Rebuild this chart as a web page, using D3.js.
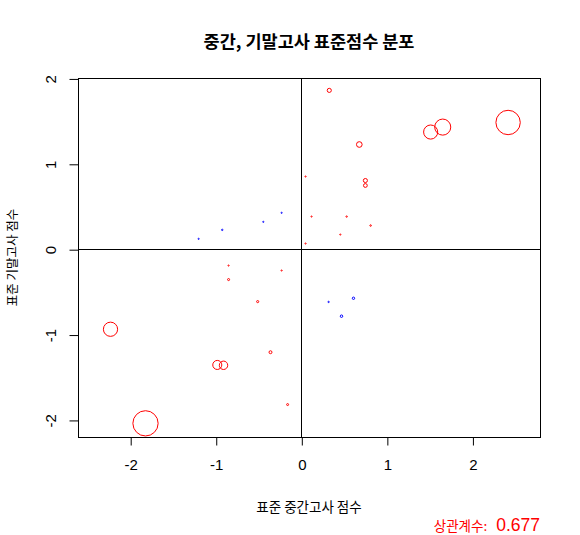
<!DOCTYPE html>
<html>
<head>
<meta charset="utf-8">
<script src="https://cdn.jsdelivr.net/npm/d3@7"></script>
<style>
  body { margin: 0; background: #fff; }
  svg { display: block; }
</style>
</head>
<body>
<svg id="chart" width="580" height="535"></svg>
<script>
// Standardized midterm (x) and final (y) scores
const midZ = [0.327, 1.512, 1.653, 2.417, 0.678, 0.05, 0.749, 0.749, 0.12, 0.53,
              0.81, 0.456, 0.05, -1.2, -0.924, -0.444, -0.23, -0.85, -0.23, -0.85,
              -0.51, -0.36, -2.23, -0.982, -0.909, -0.16, -1.821, 0.319, 0.61, 0.47];
const finalZ = [1.86, 1.372, 1.43, 1.484, 1.226, 0.851, 0.804, 0.746, 0.382, 0.382,
                0.277, 0.171, 0.066, 0.121, 0.226, 0.32, 0.426, -0.192, -0.25, -0.356,
                -0.614, -1.207, -0.938, -1.356, -1.36, -1.82, -2.04, -0.618, -0.575, -0.785];
const xTicks = [-2, -1, 0, 1, 2];
const yTicks = [-2, -1, 0, 1, 2];
const titleText = "중간, 기말고사 표준점수 분포";
const xLabel = "표준 중간고사 점수";
const yLabel = "표준 기말고사 점수";
const corrLabel = "상관계수:";
const corrValue = "0.677";

const svg = d3.select("#chart");
const L = 78, R = 540, T = 78, B = 437;
const x = d3.scaleLinear().domain([-2.61, 2.79]).range([L, R]);
const y = d3.scaleLinear().domain([-2.20, 2.005]).range([B, T]);

const pts = midZ.map((v, i) => ({ x: v, y: finalZ[i] }));
const fmt = d => String(d);

// zero lines
svg.append("line").attr("x1", L).attr("x2", R)
  .attr("y1", Math.round(y(0)) + 0.5).attr("y2", Math.round(y(0)) + 0.5)
  .attr("stroke", "#000").attr("stroke-width", 1);
svg.append("line").attr("y1", T).attr("y2", B)
  .attr("x1", Math.round(x(0)) + 0.5).attr("x2", Math.round(x(0)) + 0.5)
  .attr("stroke", "#000").attr("stroke-width", 1);

// points
svg.append("g").selectAll("circle").data(pts).join("circle")
  .attr("cx", d => x(d.x))
  .attr("cy", d => y(d.y))
  .attr("r", d => Math.max(3.4 * Math.abs(d.x * d.y), 0.6))
  .attr("fill", "none")
  .attr("stroke", d => d.x * d.y > 0 ? "#ff0000" : "#0000ff")
  .attr("stroke-width", 1);

// box
svg.append("rect").attr("x", L + 0.5).attr("y", T + 0.5)
  .attr("width", R - L).attr("height", B - T)
  .attr("fill", "none").attr("stroke", "#000").attr("stroke-width", 1);

const tickFont = "'Liberation Sans', Arial, sans-serif";

// x axis
const xa = svg.append("g").attr("transform", `translate(0.5,${B + 0.5})`)
  .call(d3.axisBottom(x).tickValues(xTicks).tickSize(8).tickPadding(14).tickFormat(fmt));
xa.select(".domain").remove();
xa.selectAll("line").attr("stroke", "#000");
xa.selectAll("text").attr("font-family", tickFont).attr("font-size", 15).attr("fill", "#000");

// y axis
const ya = svg.append("g").attr("transform", `translate(${L + 0.5},0.5)`)
  .call(d3.axisLeft(y).tickValues(yTicks).tickSize(9).tickPadding(0).tickFormat(fmt));
ya.select(".domain").remove();
ya.selectAll("line").attr("stroke", "#000");
ya.selectAll("text").remove();
ya.selectAll(".tick").append("text")
  .attr("transform", "translate(-28,0) rotate(-90)")
  .attr("text-anchor", "middle")
  .attr("dy", "0.36em")
  .attr("font-family", tickFont).attr("font-size", 15).attr("fill", "#000")
  .text(fmt);

const cjk = "'Noto Sans CJK KR', 'Noto Sans', sans-serif";

// title
svg.append("text").attr("x", (L + R) / 2).attr("y", 48)
  .attr("text-anchor", "middle").attr("font-family", cjk)
  .attr("font-weight", "bold").attr("font-size", 17.5).attr("fill", "#000")
  .text(titleText);

// x label
svg.append("text").attr("x", (L + R) / 2).attr("y", 512)
  .attr("text-anchor", "middle").attr("font-family", cjk)
  .attr("font-size", 13.5).attr("fill", "#000")
  .text(xLabel);

// y label
svg.append("text")
  .attr("transform", `translate(17,${(T + B) / 2}) rotate(-90)`)
  .attr("text-anchor", "middle").attr("font-family", cjk)
  .attr("font-size", 12.5).attr("fill", "#000")
  .text(yLabel);

// correlation
const corr = svg.append("text").attr("x", R).attr("y", 531)
  .attr("text-anchor", "end").attr("fill", "#ff0000");
corr.append("tspan").attr("font-family", cjk).attr("font-size", 13.5).text(corrLabel);
corr.append("tspan").attr("dx", 9).attr("font-family", tickFont).attr("font-size", 17.5).text(corrValue);
</script>
</body>
</html>
